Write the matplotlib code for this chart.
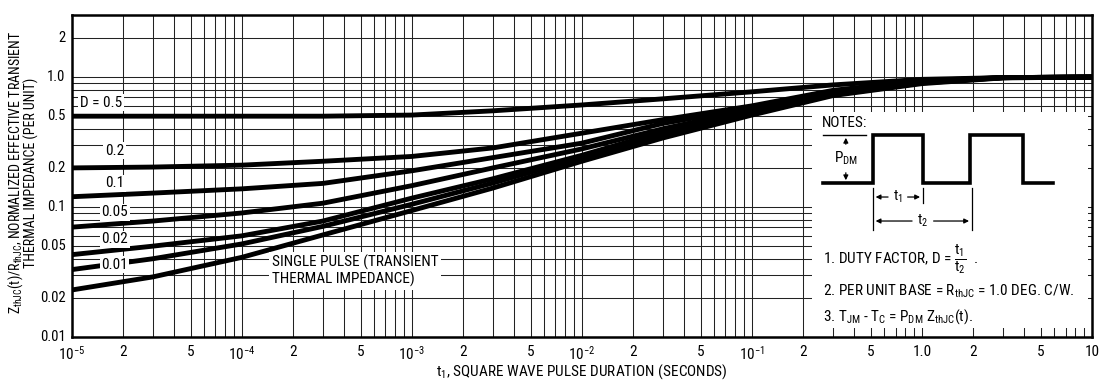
import matplotlib
matplotlib.use("Agg")
import matplotlib.pyplot as plt
from matplotlib.ticker import LogLocator, NullFormatter
from matplotlib.patches import Rectangle

plt.rcParams['font.family'] = ['Roboto Condensed', 'Fira Sans Condensed', 'DejaVu Sans']
plt.rcParams['mathtext.fontset'] = 'custom'
plt.rcParams['mathtext.rm'] = 'Roboto Condensed'
plt.rcParams['mathtext.it'] = 'Roboto Condensed'
plt.rcParams['mathtext.default'] = 'regular'

# pulse duration (s) and normalized transient thermal impedance per duty factor
t_pts = [1e-5, 3e-5, 1e-4, 3e-4, 1e-3, 3e-3, 1e-2, 3e-2, 1e-1, 3e-1, 1, 3, 10]
z_d50 = [0.5, 0.5, 0.5, 0.5, 0.51, 0.55, 0.61, 0.68, 0.77, 0.87, 0.96, 0.99, 1.0]
z_d20 = [0.2, 0.203, 0.21, 0.225, 0.245, 0.285, 0.37, 0.47, 0.6, 0.79, 0.94, 0.99, 1.0]
z_d10 = [0.12, 0.128, 0.138, 0.152, 0.19, 0.24, 0.31, 0.44, 0.58, 0.77, 0.93, 0.99, 1.0]
z_d05 = [0.07, 0.078, 0.09, 0.107, 0.146, 0.2, 0.28, 0.4, 0.56, 0.75, 0.92, 0.99, 1.0]
z_d02 = [0.043, 0.05, 0.06, 0.078, 0.117, 0.165, 0.25, 0.38, 0.54, 0.74, 0.91, 0.99, 1.0]
z_d01 = [0.033, 0.04, 0.052, 0.071, 0.105, 0.153, 0.24, 0.36, 0.53, 0.73, 0.9, 0.99, 1.0]
z_single = [0.023, 0.029, 0.041, 0.061, 0.094, 0.14, 0.225, 0.34, 0.51, 0.72, 0.89, 0.985, 1.0]

curves = [z_d50, z_d20, z_d10, z_d05, z_d02, z_d01, z_single]

x_ticks = [1e-5, 2e-5, 5e-5, 1e-4, 2e-4, 5e-4, 1e-3, 2e-3, 5e-3, 1e-2, 2e-2, 5e-2,
           1e-1, 2e-1, 5e-1, 1, 2, 5, 10]
x_labels = ['$10^{-5}$', '2', '5', '$10^{-4}$', '2', '5', '$10^{-3}$', '2', '5',
            '$10^{-2}$', '2', '5', '$10^{-1}$', '2', '5', '1.0', '2', '5', '10']
y_ticks = [0.01, 0.02, 0.05, 0.1, 0.2, 0.5, 1.0, 2]
y_labels = ['0.01', '0.02', '0.05', '0.1', '0.2', '0.5', '1.0', '2']

fig = plt.figure(figsize=(11.04, 3.81), dpi=100)
ax = fig.add_axes([0.065, 0.1155, 0.924, 0.845])
ax.set_xscale('log')
ax.set_yscale('log')
ax.set_xlim(1e-5, 10)
ax.set_ylim(0.01, 3.0)

# graph paper grid
ax.xaxis.set_major_locator(LogLocator(base=10, numticks=20))
ax.xaxis.set_minor_locator(LogLocator(base=10, subs=range(2, 10), numticks=100))
ax.yaxis.set_major_locator(LogLocator(base=10, numticks=20))
ax.yaxis.set_minor_locator(LogLocator(base=10, subs=range(2, 10), numticks=100))
ax.grid(True, which='both', color='#222222', lw=0.75)
ax.xaxis.set_major_formatter(NullFormatter())
ax.xaxis.set_minor_formatter(NullFormatter())
ax.yaxis.set_major_formatter(NullFormatter())
ax.yaxis.set_minor_formatter(NullFormatter())
ax.tick_params(which='both', length=0)

for sp in ax.spines.values():
    sp.set_linewidth(1.8)
    sp.set_zorder(10)

for z in curves:
    ax.plot(t_pts, z, color='black', lw=3.5, solid_capstyle='butt', zorder=5)

FS = 11

# tick labels as text
for xv, lab in zip(x_ticks, x_labels):
    ax.text(xv, -0.025, lab, transform=ax.get_xaxis_transform(), ha='center', va='top',
            fontsize=FS)
for yv, lab in zip(y_ticks, y_labels):
    ax.text(-0.006, yv, lab, transform=ax.get_yaxis_transform(), ha='right', va='center',
            fontsize=FS - 0.5)

# curve labels
bb = dict(boxstyle='square,pad=0.1', fc='white', ec='none')
ax.text(0.008, 0.727, 'D = 0.5', transform=ax.transAxes, ha='left', va='center',
        fontsize=FS, bbox=bb, zorder=6)
for lab, yf in [('0.2', 0.578), ('0.1', 0.478), ('0.05', 0.388), ('0.02', 0.304),
                ('0.01', 0.224)]:
    ax.text(0.042, yf, lab, transform=ax.transAxes, ha='center', va='center',
            fontsize=FS, bbox=bb, zorder=6)
ax.text(0.196, 0.205, 'SINGLE PULSE (TRANSIENT\nTHERMAL IMPEDANCE)', transform=ax.transAxes,
        ha='left', va='center', fontsize=FS, linespacing=1.1,
        bbox=dict(boxstyle='square,pad=0.2', fc='white', ec='none'), zorder=6)

# notes panel
ax.add_patch(Rectangle((0.7255, 0.028), 0.2705, 0.671, transform=ax.transAxes,
                       fc='white', ec='none', zorder=7))
ax.text(0.735, 0.666, 'NOTES:', transform=ax.transAxes, ha='left', va='center',
        fontsize=FS, zorder=8)

def px(x):
    return (x - 72) / 1020.0

def py(y):
    return (337 - y) / 322.0

wave_x = [823, 873, 873, 923, 923, 970, 970, 1023, 1023, 1053]
wave_y = [183, 183, 135, 135, 183, 183, 135, 135, 183, 183]
ax.plot([px(v) for v in wave_x], [py(v) for v in wave_y], transform=ax.transAxes,
        color='black', lw=2.6, zorder=8, solid_joinstyle='miter')
ax.plot([px(823), px(866)], [py(135), py(135)], transform=ax.transAxes, color='black',
        lw=1.0, zorder=8)
arr = dict(arrowstyle='-|>', color='black', lw=0.9, mutation_scale=7)
ax.annotate('', xy=(px(846), py(135)), xytext=(px(846), py(147)), xycoords='axes fraction',
            arrowprops=arr, zorder=8)
ax.annotate('', xy=(px(846), py(183)), xytext=(px(846), py(170)), xycoords='axes fraction',
            arrowprops=arr, zorder=8)
ax.text(px(846), py(158), '$P_{DM}$', transform=ax.transAxes, ha='center', va='center',
        fontsize=FS, zorder=8)

# t1 / t2 dimensions
for xv, y2 in [(873, 230), (923, 203), (972, 230)]:
    ax.plot([px(xv), px(xv)], [py(188), py(y2)], transform=ax.transAxes, color='black',
            lw=0.9, zorder=8)
ax.annotate('', xy=(px(873), py(197)), xytext=(px(891), py(197)), xycoords='axes fraction',
            arrowprops=arr, zorder=8)
ax.annotate('', xy=(px(923), py(197)), xytext=(px(905), py(197)), xycoords='axes fraction',
            arrowprops=arr, zorder=8)
ax.text(px(898), py(197), '$t_1$', transform=ax.transAxes, ha='center', va='center',
        fontsize=FS - 0.5, zorder=8)
ax.annotate('', xy=(px(873), py(221)), xytext=(px(915), py(221)), xycoords='axes fraction',
            arrowprops=arr, zorder=8)
ax.annotate('', xy=(px(972), py(221)), xytext=(px(931), py(221)), xycoords='axes fraction',
            arrowprops=arr, zorder=8)
ax.text(px(923), py(221), '$t_2$', transform=ax.transAxes, ha='center', va='center',
        fontsize=FS - 0.5, zorder=8)

ax.text(px(823), py(259), r'1. DUTY FACTOR, D = $\dfrac{t_1}{t_2}$  .', transform=ax.transAxes,
        ha='left', va='center', fontsize=FS, zorder=8)
ax.text(px(823), py(291), '2. PER UNIT BASE = R$_{thJC}$ = 1.0 DEG. C/W.',
        transform=ax.transAxes, ha='left', va='center', fontsize=FS, zorder=8)
ax.text(px(823), py(317), '3. T$_{JM}$ - T$_C$ = P$_{DM}$ Z$_{thJC}$(t).',
        transform=ax.transAxes, ha='left', va='center', fontsize=FS, zorder=8)

# axis titles
fig.text(0.0205, 0.546, 'Z$_{thJC}$(t)/R$_{thJC}$, NORMALIZED EFFECTIVE TRANSIENT\n'
         'THERMAL IMPEDANCE (PER UNIT)', rotation=90, ha='center', va='center',
         multialignment='center', fontsize=10, linespacing=0.95)
fig.text(0.527, 0.026, 't$_1$, SQUARE WAVE PULSE DURATION (SECONDS)', ha='center',
         va='center', fontsize=FS)

fig.savefig('out.png', dpi=100, facecolor='white')
